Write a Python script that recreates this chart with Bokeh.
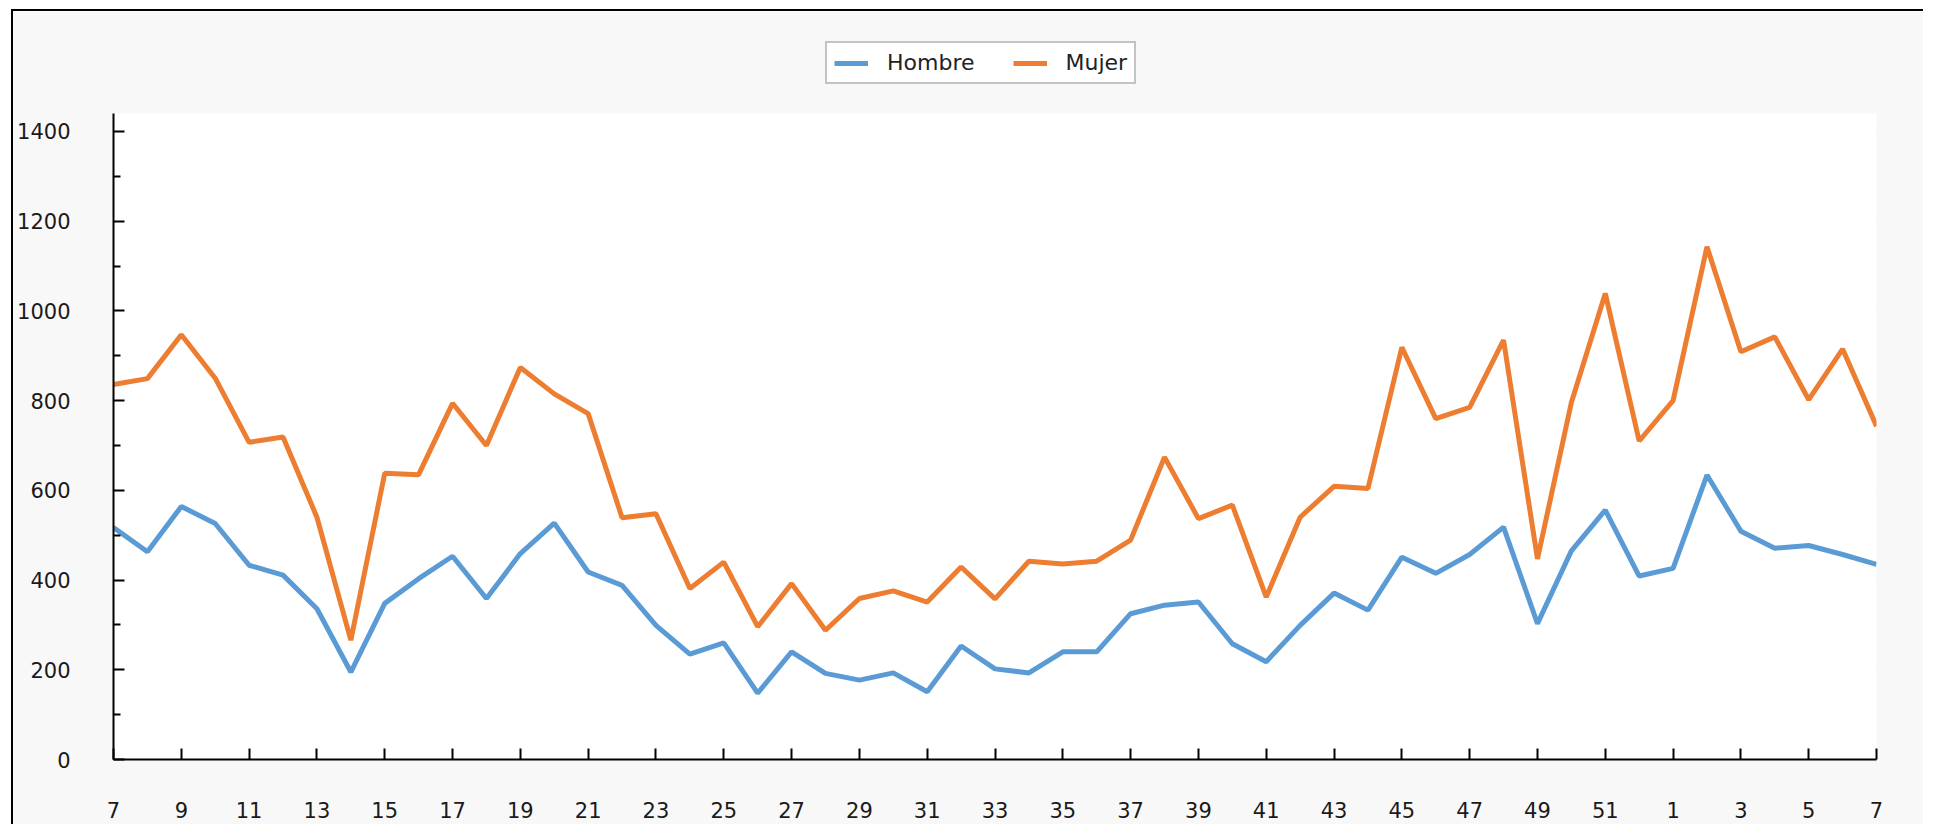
from bokeh.plotting import figure
from bokeh.models import FixedTicker, Legend, LegendItem, Range1d, BoxAnnotation
from bokeh.embed import file_html
from bokeh.resources import INLINE

# ---- data ----
weeks = list(range(7, 53)) + list(range(1, 8))
hombre = [517, 463, 564, 526, 433, 411, 336, 195, 348, 403, 453, 359, 459, 527,
          418, 388, 299, 235, 260, 148, 240, 192, 177, 193, 151, 253, 202, 193,
          240, 240, 325, 344, 351, 258, 218, 299, 371, 333, 451, 415, 457, 518,
          303, 465, 556, 409, 426, 634, 509, 471, 477, 457, 435]
mujer = [836, 849, 947, 850, 707, 719, 540, 266, 638, 635, 794, 700, 874, 815,
         771, 539, 548, 381, 440, 296, 392, 288, 359, 376, 351, 429, 358, 442,
         436, 442, 489, 674, 537, 567, 362, 540, 609, 604, 919, 760, 785, 935,
         447, 796, 1039, 710, 800, 1143, 909, 942, 802, 915, 743]
series_names = ["Hombre", "Mujer"]
y_major = [0, 200, 400, 600, 800, 1000, 1200, 1400]
y_minor = [100, 300, 500, 700, 900, 1100, 1300]
y_axis_max = 1440

colors = ["#5b9bd5", "#ed7d31"]
FONT = "DejaVu Sans"
BG = "#f8f8f8"

x = list(range(len(weeks)))

# frame extends above the plotting area so that the legend (drawn inside the
# frame) is not clipped; only the part up to y_axis_max is painted white.
p = figure(width=1912, height=815, output_backend="svg", toolbar_location=None,
           x_range=Range1d(0, len(weeks) - 1),
           y_range=Range1d(0, y_axis_max * 729 / 646),
           min_border_left=100, min_border_right=49,
           min_border_top=19, min_border_bottom=67)
p.styles = {"margin-left": "11px", "margin-top": "9px",
            "border-left": "2px solid #000", "border-top": "2px solid #000"}

p.border_fill_color = BG
p.background_fill_color = BG
p.outline_line_color = None

p.add_layout(BoxAnnotation(top=y_axis_max, fill_color="#ffffff", fill_alpha=1.0,
                           line_color=None, level="underlay"))

r1 = p.line(x, hombre, line_color=colors[0], line_width=5)
r2 = p.line(x, mujer, line_color=colors[1], line_width=5)

# grid
p.xgrid.grid_line_color = None
p.ygrid.grid_line_color = "#d6d6d6"
p.ygrid.grid_line_width = 2

# x axis
xa = p.xaxis[0]
xa.ticker = FixedTicker(ticks=x[::2])
xa.major_label_overrides = {i: str(weeks[i]) for i in x[::2]}
xa.axis_line_color = "#000000"
xa.axis_line_width = 2
xa.major_tick_in = 11
xa.major_tick_out = 0
xa.major_tick_line_width = 2
xa.major_tick_line_color = "#000000"
xa.minor_tick_line_color = None
xa.major_label_standoff = 42
xa.major_label_text_font = FONT
xa.major_label_text_font_size = "21px"
xa.major_label_text_color = "#1a1a1a"

# y axis
ya = p.yaxis[0]
ya.bounds = (0, y_axis_max)
ya.ticker = FixedTicker(ticks=y_major, minor_ticks=y_minor)
ya.axis_line_color = "#000000"
ya.axis_line_width = 2
ya.major_tick_in = 11
ya.major_tick_out = 0
ya.major_tick_line_width = 2
ya.major_tick_line_color = "#000000"
ya.minor_tick_in = 7
ya.minor_tick_out = 0
ya.minor_tick_line_width = 2
ya.minor_tick_line_color = "#000000"
ya.major_label_standoff = 43
ya.major_label_text_font = FONT
ya.major_label_text_font_size = "21px"
ya.major_label_text_color = "#1a1a1a"

legend = Legend(items=[LegendItem(label=series_names[0], renderers=[r1]),
                       LegendItem(label=series_names[1], renderers=[r2])],
                orientation="horizontal", location=(712, 675))
legend.label_text_font = FONT
legend.label_text_font_size = "22px"
legend.label_text_color = "#222222"
legend.glyph_width = 34
legend.glyph_height = 22
legend.label_standoff = 19
legend.spacing = 38
legend.padding = 7
legend.margin = 0
legend.border_line_color = "#888888"
legend.border_line_width = 2
legend.background_fill_color = "#ffffff"
legend.background_fill_alpha = 1.0
p.add_layout(legend, "center")

open("out.html", "w").write(file_html(p, INLINE))
